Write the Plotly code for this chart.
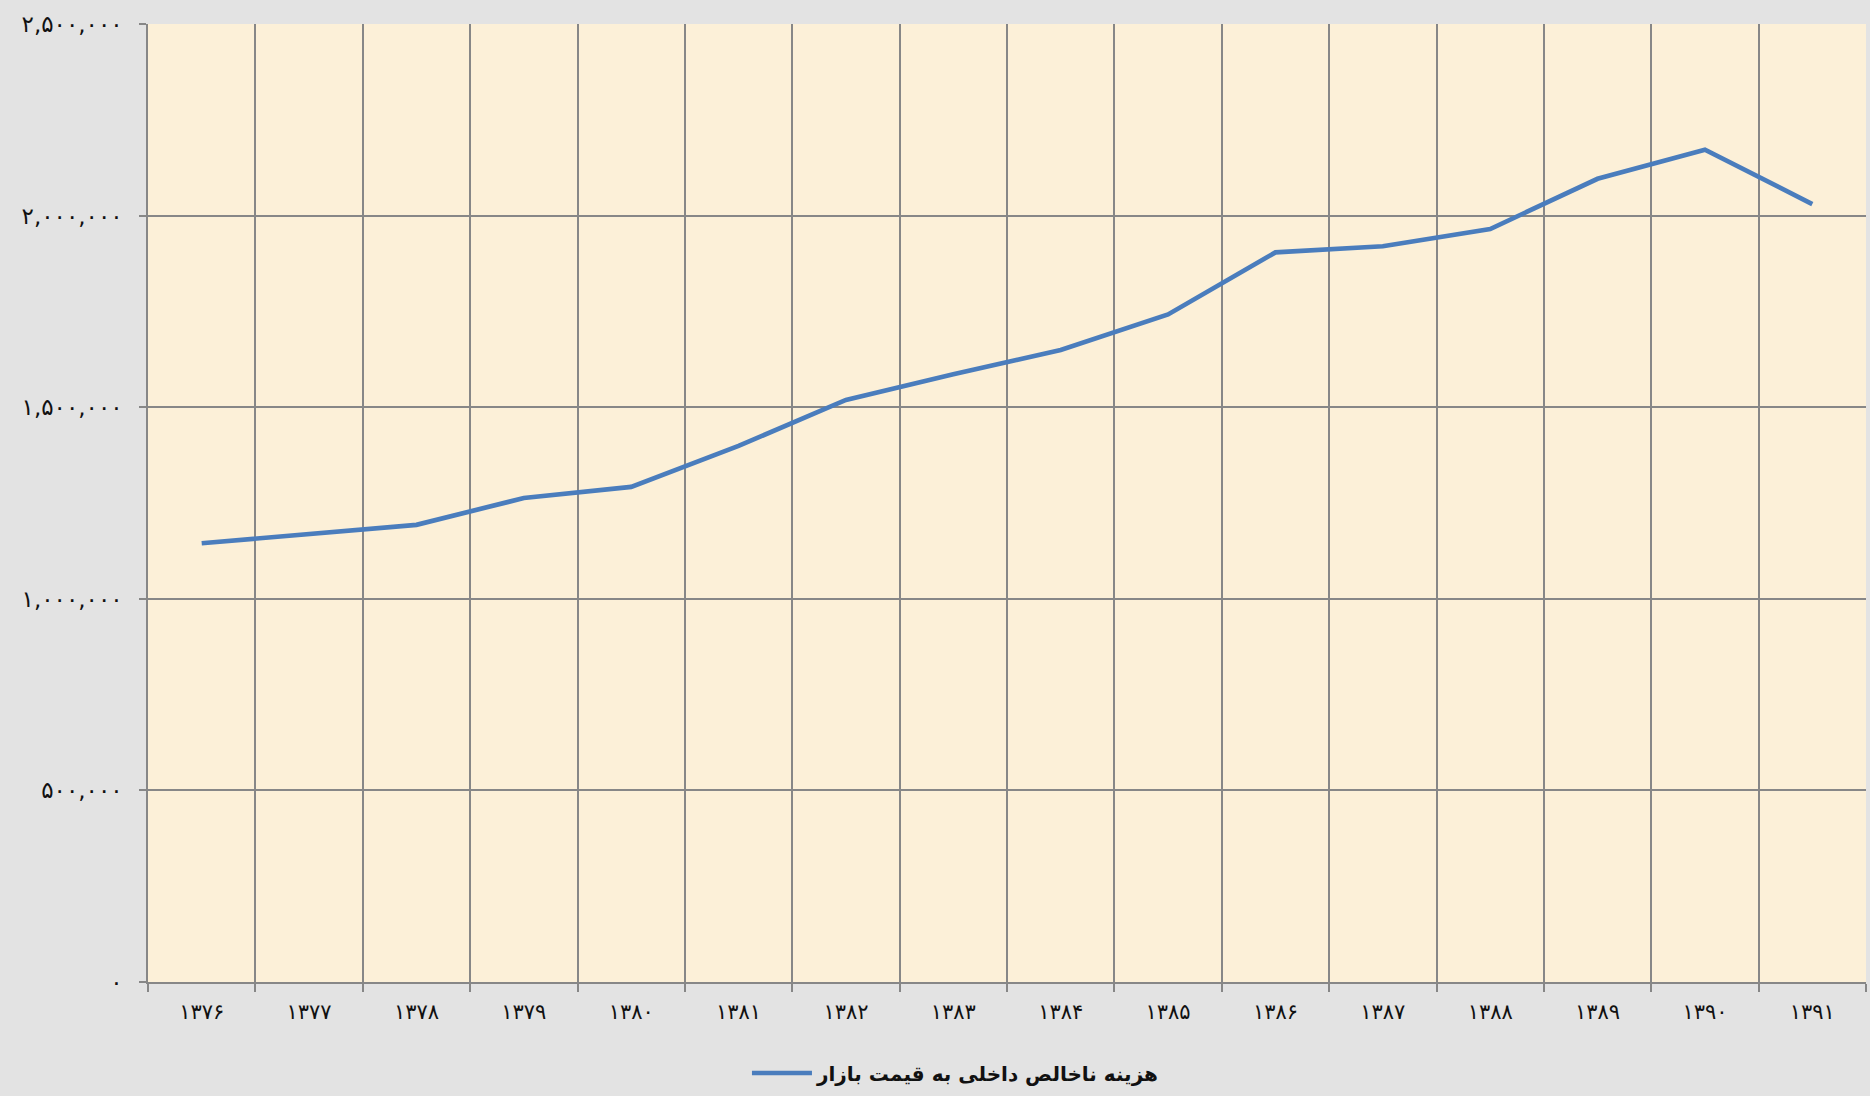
"""Line chart: gross domestic expenditure at market prices, 1376-1391."""

import plotly.graph_objects as go

# years (Persian calendar, Persian digits)
years = [
    "۱۳۷۶", "۱۳۷۷", "۱۳۷۸", "۱۳۷۹", "۱۳۸۰", "۱۳۸۱", "۱۳۸۲", "۱۳۸۳",
    "۱۳۸۴", "۱۳۸۵", "۱۳۸۶", "۱۳۸۷", "۱۳۸۸", "۱۳۸۹", "۱۳۹۰", "۱۳۹۱",
]
# values
expenditure = [
    1145000, 1169000, 1193000, 1263000, 1292000, 1399000, 1519000, 1586000,
    1649000, 1742000, 1904000, 1920000, 1965000, 2096000, 2172000, 2030000,
]
series_name = "هزینه ناخالص داخلی به قیمت بازار"

y_tickvals = [0, 500000, 1000000, 1500000, 2000000, 2500000]
y_ticktext = ["۰", "۵۰۰,۰۰۰", "۱,۰۰۰,۰۰۰", "۱,۵۰۰,۰۰۰", "۲,۰۰۰,۰۰۰", "۲,۵۰۰,۰۰۰"]

FONT = "DejaVu Sans"
GRID = "#878787"

fig = go.Figure()
fig.add_trace(
    go.Scatter(
        x=years,
        y=expenditure,
        mode="lines",
        line={"width": 4.7, "color": "#4a7dbd"},
        name=series_name,
    )
)

fig.update_layout(
    width=1870,
    height=1096,
    margin={"l": 148, "r": 4, "t": 24, "b": 112},
    paper_bgcolor="#e3e3e3",
    plot_bgcolor="#fcf0d8",
    font={"family": FONT, "size": 20, "color": "#111111"},
    showlegend=True,
    legend={
        "orientation": "h",
        "x": 0.47,
        "xanchor": "center",
        "y": -0.095,
        "yanchor": "middle",
        "font": {"family": FONT, "size": 20, "weight": "bold"},
        "bgcolor": "rgba(0,0,0,0)",
        "itemwidth": 60,
    },
    xaxis={
        "type": "category",
        "range": [-0.5, len(years) - 0.5],
        "tickson": "boundaries",
        "ticks": "outside",
        "ticklen": 8,
        "tickcolor": GRID,
        "tickwidth": 1.5,
        "showgrid": True,
        "gridcolor": GRID,
        "gridwidth": 1.5,
        "showline": True,
        "linecolor": GRID,
        "linewidth": 1.5,
        "tickfont": {"size": 21},
        "ticklabelstandoff": 10,
        "zeroline": False,
    },
    yaxis={
        "range": [0, 2500000],
        "tickvals": y_tickvals,
        "ticktext": y_ticktext,
        "ticks": "outside",
        "ticklen": 7,
        "tickcolor": GRID,
        "tickwidth": 1.5,
        "showgrid": True,
        "gridcolor": GRID,
        "gridwidth": 1.5,
        "showline": True,
        "linecolor": GRID,
        "linewidth": 1.5,
        "zeroline": False,
        "tickfont": {"size": 23},
        "ticklabelstandoff": 12,
    },
)

fig.write_html(
    "out.html",
    config={"displayModeBar": False},
    post_script="document.body.style.margin='0';",
)
